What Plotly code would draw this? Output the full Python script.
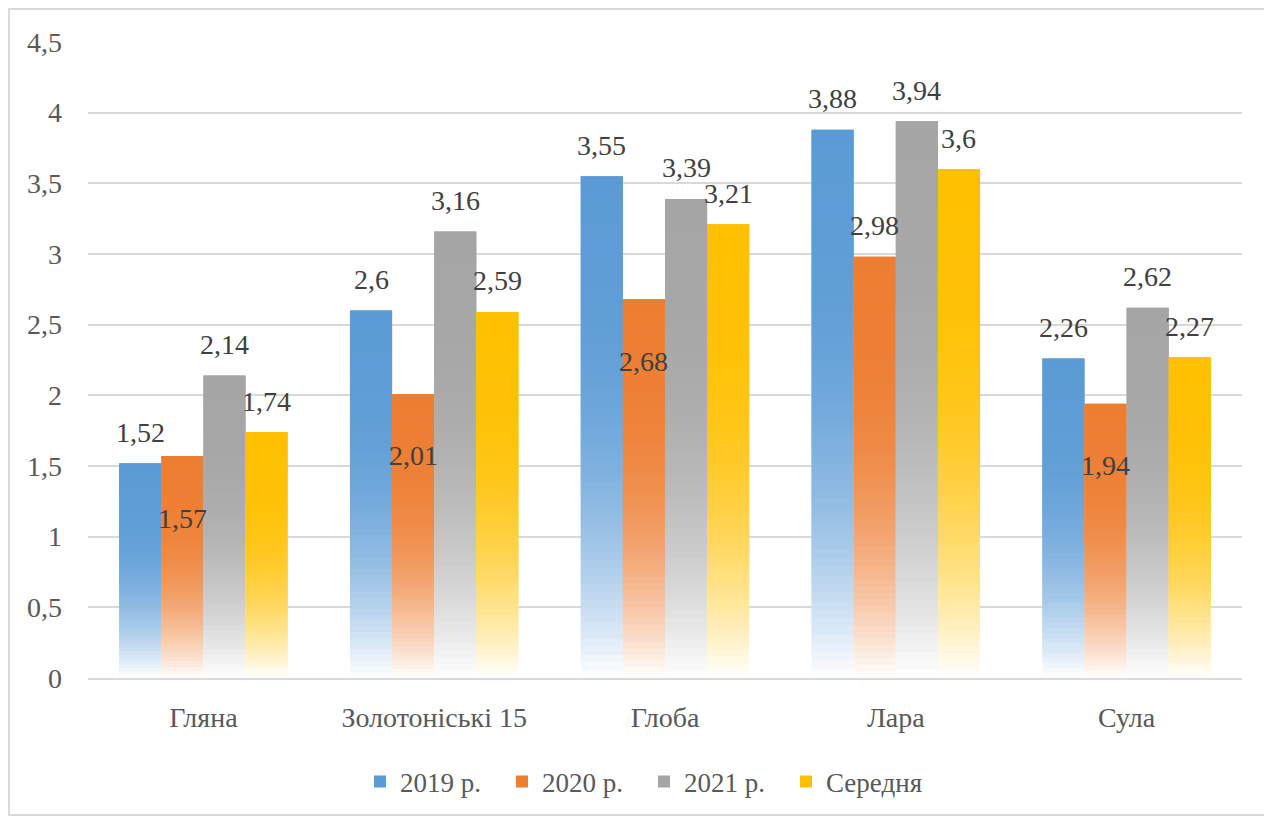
import plotly.graph_objects as go

# ---------------- data ----------------
CATEGORIES = ["Гляна", "Золотоніські 15", "Глоба", "Лара", "Сула"]
SERIES_NAMES = ["2019 р.", "2020 р.", "2021 р.", "Середня"]
V2019 = [1.52, 2.60, 3.55, 3.88, 2.26]
V2020 = [1.57, 2.01, 2.68, 2.98, 1.94]
V2021 = [2.14, 3.16, 3.39, 3.94, 2.62]
VAVG = [1.74, 2.59, 3.21, 3.60, 2.27]
Y_TICKS = [0, 0.5, 1, 1.5, 2, 2.5, 3, 3.5, 4, 4.5]
Y_TICK_TEXT = ["0", "0,5", "1", "1,5", "2", "2,5", "3", "3,5", "4", "4,5"]
# which data labels sit inside the bar (Excel placed some of them there)
LABEL_INSIDE = [
    [False] * 5,
    [True, True, True, False, True],
    [False] * 5,
    [False] * 5,
]

SERIES = [V2019, V2020, V2021, VAVG]

# ---------------- style ----------------
COLORS = [(91, 155, 213), (237, 125, 49), (165, 165, 165), (255, 192, 0)]
FONT = '"Times New Roman", "Liberation Serif", serif'
TEXT_COLOR = "#404040"
AXIS_TEXT = "#595959"
GRID = "#D9D9D9"
W, H = 1264, 812
PAGE_OFF = 8  # browser body margin
ML, MR, MT, MB = 88 - PAGE_OFF, W - (1242 - PAGE_OFF), 42 - PAGE_OFF, H - (678 - PAGE_OFF)
BARGAP = 0.27
NSEG = 64


def seg_color(rgb, f):
    # f: 0 at bottom, 1 at top
    g = 1 - (1 - min(f / 0.8, 1.0)) ** 2.4
    g = max(0.0, min(1.0, g))
    tint = 0.9 + 0.1 * f
    r, gg, b = [255 - (255 - c) * g * tint for c in rgb]
    return f"rgb({round(r)},{round(gg)},{round(b)})"


fig = go.Figure()

for s, (name, vals, rgb) in enumerate(zip(SERIES_NAMES, SERIES, COLORS)):
    for k in range(NSEG):
        f = (k + 0.5) / NSEG
        bases = [v * k / NSEG for v in vals]
        heights = [min(v * 2.0 / NSEG, v - b) for v, b in zip(vals, bases)]
        fig.add_trace(
            go.Bar(
                x=CATEGORIES,
                y=heights,
                base=bases,
                marker=dict(color=seg_color(rgb, f), line=dict(width=0)),
                offsetgroup=str(s),
                legendgroup=str(s),
                showlegend=False,
                hoverinfo="skip",
            )
        )
    # legend entry
    fig.add_trace(
        go.Bar(
            x=CATEGORIES,
            y=[0 for _ in vals],
            name=name,
            marker=dict(color="rgb(%d,%d,%d)" % rgb, line=dict(width=0)),
            offsetgroup=str(s),
            legendgroup=str(s),
            showlegend=True,
            hoverinfo="skip",
        )
    )

plot_w = W - ML - MR
plot_h = H - MT - MB
bar_w = plot_w / len(CATEGORIES) * (1 - BARGAP) / len(SERIES)

annotations = []
for s, vals in enumerate(SERIES):
    for i, v in enumerate(vals):
        inside = LABEL_INSIDE[s][i]
        annotations.append(
            dict(
                x=CATEGORIES[i],
                y=v,
                xref="x",
                yref="y",
                text=("%g" % v).replace(".", ","),
                showarrow=False,
                xshift=(s - 1.5) * bar_w,
                yshift=-62 if inside else 31,
                yanchor="middle",
                font=dict(family=FONT, size=28, color=TEXT_COLOR),
            )
        )

fig.update_layout(
    width=W,
    height=H,
    margin=dict(l=ML, r=MR, t=MT, b=MB),
    paper_bgcolor="white",
    plot_bgcolor="white",
    barmode="group",
    bargap=BARGAP,
    bargroupgap=0,
    font=dict(family=FONT, color=AXIS_TEXT),
    annotations=annotations,
    legend=dict(
        orientation="h",
        x=(360 - 88) / 1154,
        xanchor="left",
        y=-0.125,
        yanchor="top",
        font=dict(family=FONT, size=27, color=AXIS_TEXT),
        itemwidth=30,
        entrywidth=97,
        entrywidthmode="pixels",
        traceorder="normal",
    ),
    shapes=[
        dict(
            type="rect",
            xref="paper",
            yref="paper",
            x0=(1 - ML) / plot_w,
            x1=(W - 4 - ML) / plot_w,
            y0=-(MB - 5) / plot_h,
            y1=1 + (MT - 1) / plot_h,
            line=dict(color=GRID, width=2),
        )
    ],
)

fig.update_yaxes(
    range=[0, 4.5],
    tickvals=Y_TICKS,
    ticktext=Y_TICK_TEXT,
    showgrid=True,
    gridcolor=GRID,
    gridwidth=1.5,
    zeroline=False,
    showline=False,
    ticks="",
    ticklabelstandoff=25,
    tickfont=dict(family=FONT, size=28, color=AXIS_TEXT),
)
fig.update_xaxes(
    showgrid=False,
    showline=True,
    linecolor=GRID,
    linewidth=1.5,
    ticks="",
    ticklabelstandoff=14,
    tickfont=dict(family=FONT, size=28, color=AXIS_TEXT),
)

fig.write_html("out.html")
